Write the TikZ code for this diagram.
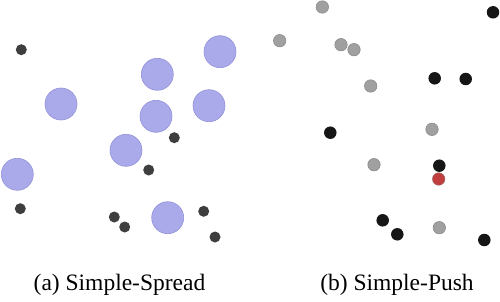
\documentclass[tikz,border=0pt]{standalone}
\usepackage{fontspec}
\setmainfont{Liberation Serif}
\definecolor{landblue}{RGB}{170,170,235}
\definecolor{landedge}{RGB}{145,145,215}
\definecolor{agentdark}{RGB}{62,62,62}
\definecolor{pushgray}{RGB}{160,160,160}
\definecolor{pushedge}{RGB}{135,135,135}
\definecolor{pushblack}{RGB}{22,22,22}
\definecolor{pushred}{RGB}{192,62,62}
\begin{document}
\begin{tikzpicture}[
    x=1pt, y=-1pt,
    landmark/.style={circle, draw=landedge, fill=landblue, line width=0.6pt,
                     inner sep=0pt, minimum size=32pt},
    spreadagent/.style={circle, fill=agentdark, inner sep=0pt, minimum size=11pt},
    pushdot/.style={circle, inner sep=0pt, minimum size=12.5pt},
    caption/.style={font=\fontsize{23.5}{28}\selectfont, inner sep=0pt}
]
    \useasboundingbox (0,0) rectangle (500,302);
    \foreach \x/\y [count=\i] in {220/51.7, 157.3/74.3, 61/104, 156/116.3,
                                  209/105.7, 126/150.3, 17.3/174.3, 167.7/217.7}
        \node [landmark] (land\i) at (\x,\y) {};
    \foreach \x/\y [count=\i] in {21.3/49.7, 174.3/137.7, 148.7/170, 20.3/208.7,
                                  114.3/217, 124.7/227, 203.7/211.3, 215/237}
        \node [spreadagent] (spread\i) at (\x,\y) {};
    \foreach \x/\y [count=\i] in {322.3/7, 279.7/40.7, 341/44.7, 354/49.7,
                                  370.7/86, 432/129.3, 374/164.7, 439.3/227.7}
        \node [pushdot, draw=pushedge, fill=pushgray, line width=0.5pt] (gray\i) at (\x,\y) {};
    \foreach \x/\y [count=\i] in {493/12.3, 434.7/78.3, 465.7/79, 330.3/132.7,
                                  439.3/165.7, 382.7/220.3, 397.3/234.3, 484.3/240}
        \node [pushdot, fill=pushblack] (black\i) at (\x,\y) {};
    \node [pushdot, draw=pushedge!60!pushred, fill=pushred, line width=0.5pt] (goal) at (438.7,179) {};
    \node [caption] (capa) at (119.5,285) {(a) Simple-Spread};
    \node [caption] (capb) at (397,285) {(b) Simple-Push};
\end{tikzpicture}
\end{document}
